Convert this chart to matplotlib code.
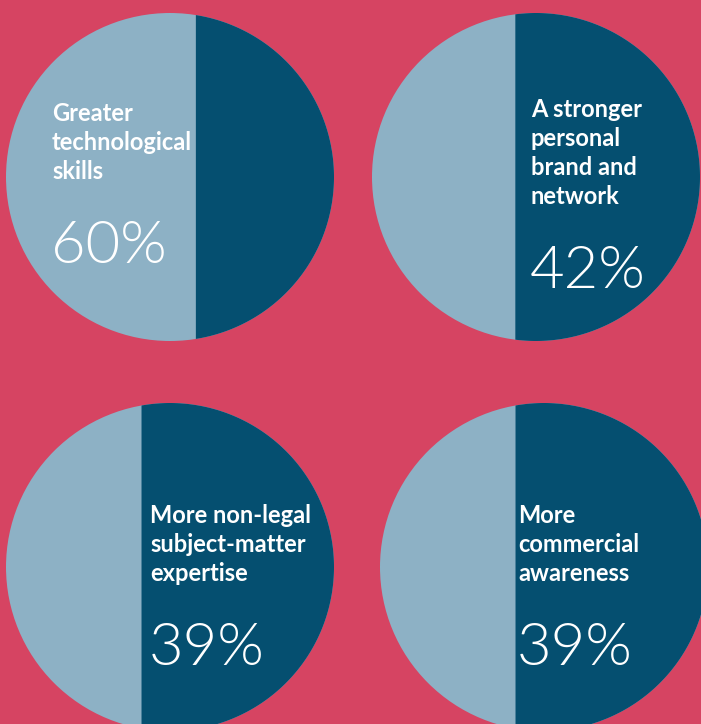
import numpy as np
import matplotlib
matplotlib.use("Agg")
import matplotlib.pyplot as plt
from matplotlib.patches import Circle

# ---- data ----
labels = ["Greater\ntechnological\nskills",
          "A stronger\npersonal\nbrand and\nnetwork",
          "More non-legal\nsubject-matter\nexpertise",
          "More\ncommercial\nawareness"]
values = [60, 42, 39, 39]                      # percent (share shown by the light segment)

# ---- style ----
BG = "#D64462"
LIGHT = "#8DB1C5"
DARK = "#054F70"
W, H = 701, 724

fig = plt.figure(figsize=(W / 100, H / 100), dpi=100)
fig.patch.set_facecolor(BG)
ax = fig.add_axes([0, 0, 1, 1])
ax.set_xlim(0, W)
ax.set_ylim(H, 0)
ax.set_aspect("equal")
ax.axis("off")

centers = [(170, 177), (536, 177), (170, 567), (544, 567)]
R = 164
text_dx = [-118, -5, -20, -26]
text_dy = [-56, -60, -44, -44]


def chord_offset(frac_left):
    """Signed offset t (in radii) of the vertical chord so that the area
    left of the chord equals frac_left of the disc."""
    lo, hi = -1.0, 1.0
    for _ in range(60):
        t = (lo + hi) / 2
        f = 0.5 + (np.arcsin(t) + t * np.sqrt(1 - t * t)) / np.pi
        if f < frac_left:
            lo = t
        else:
            hi = t
    return (lo + hi) / 2


for i, (lab, val) in enumerate(zip(labels, values)):
    cx, cy = centers[i]
    t = chord_offset(val / 100)
    xs = cx + t * R
    h = R * np.sqrt(1 - t * t)
    ax.add_patch(Circle((cx, cy), R, facecolor=LIGHT, edgecolor="none"))
    th = np.linspace(-np.arccos(t), np.arccos(t), 300)
    px = cx + R * np.cos(th)
    py = cy + R * np.sin(th)
    ax.fill(np.r_[xs, px, xs], np.r_[cy - h, py, cy + h], color=DARK, lw=0)

    tx = cx + text_dx[i]
    lines = lab.split("\n")
    base0 = cy + text_dy[i]
    for k, ln in enumerate(lines):
        ax.text(tx, base0 + k * 29, ln, color="white", fontsize=17, fontweight="bold",
                family="Lato", ha="left", va="baseline")
    nb = base0 + (len(lines) - 1) * 29 + 84
    ax.text(tx - 1, nb, f"{val}%", color="white", fontsize=43, fontweight=300,
            family="Lato", ha="left", va="baseline")

fig.savefig("out.png", dpi=100, facecolor=BG)
